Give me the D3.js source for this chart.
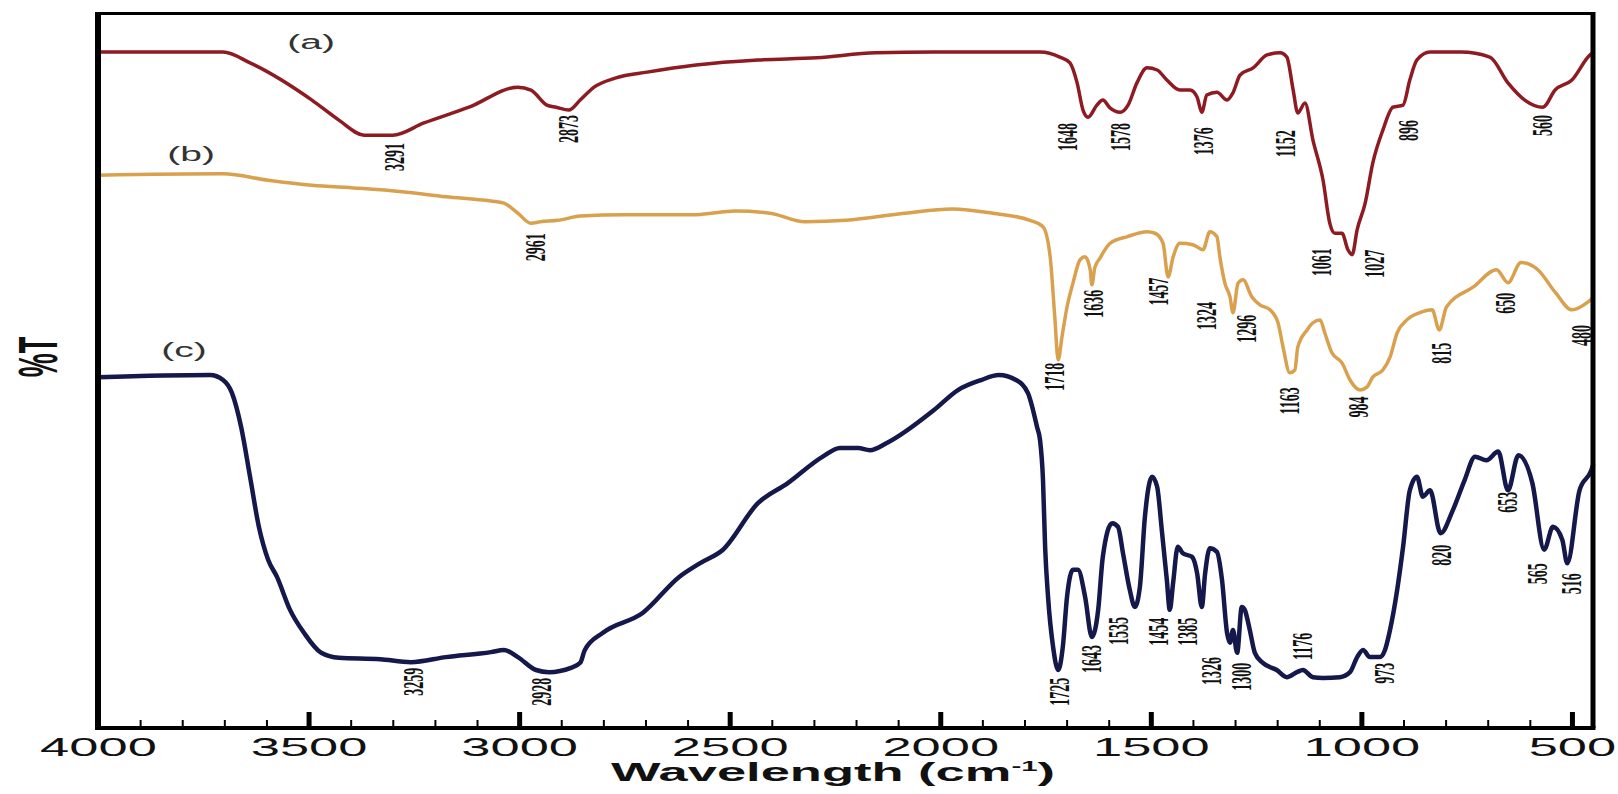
<!DOCTYPE html>
<html><head><meta charset="utf-8">
<script src="https://cdn.jsdelivr.net/npm/d3@7"></script>
<style>html,body{margin:0;padding:0;background:#fff;} svg{display:block}</style>
</head><body><svg id="chart" width="1618" height="794"></svg>
<script>
// ---------- DATA ----------
const majorTicks = [4000, 3500, 3000, 2500, 2000, 1500, 1000, 500];
const minorTicks = d3.range(3900, 450, -100).filter(v => v % 500 !== 0);

// [wavenumber cm-1, %T]
const specA = [[4000,94.4],[3703,94.4],[3639,92.9],[3492,87.7],[3428,84.9],[3368,82.8],[3300,82.8],[3226,84.5],[3119,86.7],[3003,89.5],[2972,89.1],[2934,87.0],[2912,86.7],[2882,86.3],[2855,87.7],[2822,89.5],[2770,90.8],[2696,91.6],[2580,92.6],[2433,93.3],[2293,93.6],[2153,94.3],[2015,94.4],[1763,94.4],[1716,93.7],[1692,92.9],[1675,90.1],[1661,86.3],[1649,85.3],[1628,87.0],[1614,87.7],[1597,86.6],[1573,86.0],[1554,87.0],[1533,90.1],[1509,92.2],[1485,91.9],[1462,90.5],[1431,89.1],[1407,89.1],[1390,88.1],[1379,86.0],[1367,88.4],[1343,88.8],[1319,87.7],[1305,88.7],[1288,91.2],[1257,92.2],[1224,94.0],[1193,94.3],[1177,93.7],[1162,89.1],[1151,85.9],[1134,87.3],[1115,82.1],[1091,76.5],[1075,70.5],[1063,69.1],[1046,69.1],[1032,66.8],[1022,66.1],[1010,69.6],[991,73.3],[973,78.9],[949,83.5],[925,86.7],[901,87.0],[885,90.5],[868,93.3],[837,94.4],[764,94.4],[695,93.7],[652,90.1],[612,87.7],[569,86.7],[540,89.1],[500,90.5],[457,94.0],[450,94.3]];

const specB = [[4000,77.2],[3703,77.4],[3596,76.5],[3492,75.8],[3385,75.4],[3278,74.9],[3174,74.2],[3067,73.6],[3036,73.3],[3003,71.9],[2972,70.5],[2950,70.7],[2908,70.9],[2855,71.5],[2749,71.7],[2580,71.7],[2487,72.2],[2404,71.9],[2321,70.7],[2224,70.9],[2084,71.9],[1972,72.5],[1875,71.9],[1787,70.9],[1756,70.0],[1739,65.8],[1728,57.4],[1720,51.4],[1711,54.6],[1699,58.8],[1685,62.1],[1668,65.4],[1656,65.8],[1644,64.0],[1640,61.9],[1633,64.3],[1621,65.6],[1597,67.7],[1557,68.6],[1509,69.3],[1490,69.1],[1471,67.7],[1459,63.0],[1447,65.8],[1431,67.7],[1400,67.5],[1376,66.8],[1360,69.3],[1343,68.6],[1336,65.8],[1324,62.1],[1312,60.2],[1305,58.0],[1293,62.1],[1281,62.6],[1260,60.2],[1241,59.1],[1217,58.4],[1198,56.6],[1186,53.2],[1170,49.6],[1158,50.0],[1151,53.2],[1129,55.6],[1115,56.6],[1098,57.0],[1087,55.2],[1070,52.4],[1046,51.0],[1027,48.6],[1003,47.2],[987,47.6],[973,49.0],[949,50.0],[932,51.8],[915,55.2],[892,57.0],[861,58.0],[832,58.4],[815,55.6],[798,58.8],[734,61.6],[679,64.0],[652,62.2],[621,65.0],[581,64.0],[539,60.8],[500,58.4],[464,59.4],[450,60.1]];

const specC = [[4000,49.0],[3734,49.3],[3703,48.6],[3682,46.8],[3660,42.0],[3639,35.1],[3618,28.1],[3596,23.5],[3575,21.1],[3544,16.5],[3511,13.3],[3470,10.5],[3428,9.8],[3330,9.6],[3257,9.2],[3174,9.9],[3067,10.6],[3036,10.9],[3003,9.9],[2960,8.1],[2929,7.8],[2877,8.4],[2855,9.1],[2844,10.9],[2801,13.3],[2706,16.1],[2620,21.1],[2571,23.0],[2516,24.9],[2433,31.4],[2362,34.2],[2279,37.9],[2238,39.1],[2195,39.1],[2167,38.8],[2127,39.8],[2015,44.4],[1958,47.2],[1903,48.6],[1861,49.3],[1820,48.6],[1792,46.8],[1770,42.0],[1763,40.2],[1756,34.6],[1751,25.3],[1744,18.3],[1732,11.3],[1720,8.1],[1709,11.3],[1699,18.3],[1685,22.1],[1673,22.1],[1656,18.3],[1640,12.7],[1625,16.5],[1614,23.9],[1592,28.6],[1578,28.1],[1566,24.4],[1550,19.3],[1538,16.9],[1526,19.7],[1514,29.5],[1497,35.1],[1485,33.7],[1474,27.7],[1462,20.7],[1455,16.5],[1447,20.3],[1436,25.3],[1424,24.4],[1402,23.9],[1390,21.6],[1379,16.9],[1371,21.6],[1360,25.1],[1343,24.6],[1331,20.7],[1319,13.3],[1312,11.9],[1305,13.7],[1295,10.5],[1284,16.9],[1277,16.5],[1265,13.7],[1253,10.5],[1234,9.1],[1201,8.1],[1177,7.1],[1153,7.8],[1139,8.1],[1115,7.1],[1091,7.0],[1051,7.1],[1027,7.8],[1010,9.9],[996,10.9],[980,9.9],[956,9.9],[944,10.9],[932,13.7],[915,19.3],[901,25.3],[885,33.2],[868,35.1],[854,32.3],[837,33.2],[812,27.2],[783,30.4],[755,34.6],[730,37.9],[703,37.4],[675,38.6],[652,33.2],[627,38.1],[594,34.2],[566,24.9],[545,28.1],[523,26.3],[511,23.0],[482,33.2],[454,36.0],[450,36.7]];

// peak annotations: [text, wavenumber at label, %T at label top]
const peaksA = [["3291",3295,81.7],["2873",2882,85.6],["1648",1697,84.5],["1578",1573,84.5],["1376",1376,83.9],["1152",1181,83.5],["1061",1094,67.0],["1027",968,66.8],["896",889,84.9],["560",569,85.6]];
const peaksB = [["2961",2962,69.1],["1718",1728,51.0],["1636",1637,61.2],["1457",1483,62.9],["1324",1367,59.5],["1296",1272,57.7],["1163",1170,47.6],["984",1008,46.3],["815",811,53.8],["650",659,60.8],["480",478,56.3]];
const peaksC = [["3259",3252,8.4],["2928",2946,7.0],["1725",1716,7.0],["1643",1640,11.6],["1535",1578,15.5],["1454",1483,15.4],["1385",1414,15.4],["1326",1355,9.9],["1300",1284,9.1],["1176",1139,13.3],["973",944,9.1],["820",811,25.6],["653",652,33.0],["565",583,23.0],["516",500,21.6]];

const seriesNames = ["(a)", "(b)", "(c)"];
const seriesNamePos = [[3494,94.8],[3779,79.2],[3796,51.8]];
const seriesColors = ["#8e1a22", "#d9a04e", "#14184a"];

// ---------- LAYOUT ----------
const W = 1618, H = 794;
const margin = {top: 12, right: 25, bottom: 66, left: 98};
const x = d3.scaleLinear().domain([4000, 450]).range([margin.left, W - margin.right]);
const y = d3.scaleLinear().domain([0, 100]).range([H - margin.bottom, margin.top]);
const SX = 2.05; // horizontal stretch of text as in the original

const svg = d3.select('#chart');
svg.append('rect').attr('width', W).attr('height', H).attr('fill', '#fff');

const line = d3.line().x(d => x(d[0])).y(d => y(d[1])).curve(d3.curveMonotoneX);
const specs = [specA, specB, specC];
const widths = [3.5, 3.5, 4.5];
specs.forEach((s, i) => {
  svg.append('path').datum(s).attr('d', line).attr('fill', 'none')
    .attr('stroke', seriesColors[i]).attr('stroke-width', widths[i])
    .attr('stroke-linejoin', 'round').attr('stroke-linecap', 'round');
});

// peak labels
[peaksA, peaksB, peaksC].forEach(pk => {
  pk.forEach(p => {
    svg.append('text')
      .attr('transform', `translate(${x(p[1])},${y(p[2])}) scale(${SX},1) rotate(-90)`)
      .attr('text-anchor', 'end').attr('dominant-baseline', 'central')
      .attr('font-family', '"Liberation Serif", "Times New Roman", serif')
      .attr('font-weight', 'bold').attr('font-size', 14).attr('fill', '#111')
      .text(p[0]);
  });
});

// series names
seriesNames.forEach((n, i) => {
  svg.append('text')
    .attr('transform', `translate(${x(seriesNamePos[i][0])},${y(seriesNamePos[i][1])}) scale(1.95,1)`)
    .attr('text-anchor', 'middle')
    .attr('font-family', '"Liberation Sans", Arial, sans-serif')
    .attr('font-size', 20).attr('fill', '#333').text(n);
});

// frame (top + right)
svg.append('line').attr('x1', x(4000)).attr('x2', x(450)).attr('y1', y(100) + 1.5).attr('y2', y(100) + 1.5)
  .attr('stroke', '#000').attr('stroke-width', 3);
svg.append('line').attr('x1', x(450)).attr('x2', x(450)).attr('y1', y(100)).attr('y2', y(0))
  .attr('stroke', '#000').attr('stroke-width', 5);

// x axis: minor ticks
const gMinor = svg.append('g').attr('transform', `translate(0,${y(0)})`)
  .call(d3.axisBottom(x).tickValues(minorTicks).tickSize(-8).tickFormat(''));
gMinor.select('.domain').remove();
gMinor.selectAll('.tick line').attr('stroke', '#000').attr('stroke-width', 2);

// x axis: major ticks + labels
const gMajor = svg.append('g').attr('transform', `translate(0,${y(0)})`)
  .call(d3.axisBottom(x).tickValues(majorTicks).tickSizeInner(-16).tickSizeOuter(0).tickFormat(d3.format('d')));
gMajor.select('.domain').remove();
gMajor.selectAll('.tick line').attr('stroke', '#000').attr('stroke-width', 5);
gMajor.selectAll('.tick text')
  .attr('y', null).attr('dy', null)
  .attr('transform', `translate(0,28) scale(2.1,1)`)
  .attr('font-family', '"Liberation Sans", Arial, sans-serif')
  .attr('font-size', 25).attr('fill', '#111');

// axis lines
svg.append('line').attr('x1', x(4000) - 3).attr('x2', x(450) + 2.5).attr('y1', y(0)).attr('y2', y(0))
  .attr('stroke', '#000').attr('stroke-width', 4);
svg.append('line').attr('x1', x(4000)).attr('x2', x(4000)).attr('y1', y(100)).attr('y2', y(0) + 2)
  .attr('stroke', '#000').attr('stroke-width', 6);

// x title
const title = svg.append('text')
  .attr('transform', `translate(833,781) scale(2.1,1)`)
  .attr('text-anchor', 'middle')
  .attr('font-family', '"Liberation Sans", Arial, sans-serif')
  .attr('font-weight', 'bold').attr('font-size', 25).attr('fill', '#111');
title.append('tspan').text('Wavelength (cm');
title.append('tspan').attr('font-size', 14).attr('dy', -10).text('-1');
title.append('tspan').attr('dy', 10).text(')');

// y title
svg.append('text')
  .attr('transform', `translate(38,357) scale(2.05,1) rotate(-90)`)
  .attr('text-anchor', 'middle').attr('dominant-baseline', 'central')
  .attr('font-family', '"Liberation Sans", Arial, sans-serif')
  .attr('font-weight', 'bold').attr('font-size', 27).attr('fill', '#111')
  .text('%T');
</script>
</body></html>
